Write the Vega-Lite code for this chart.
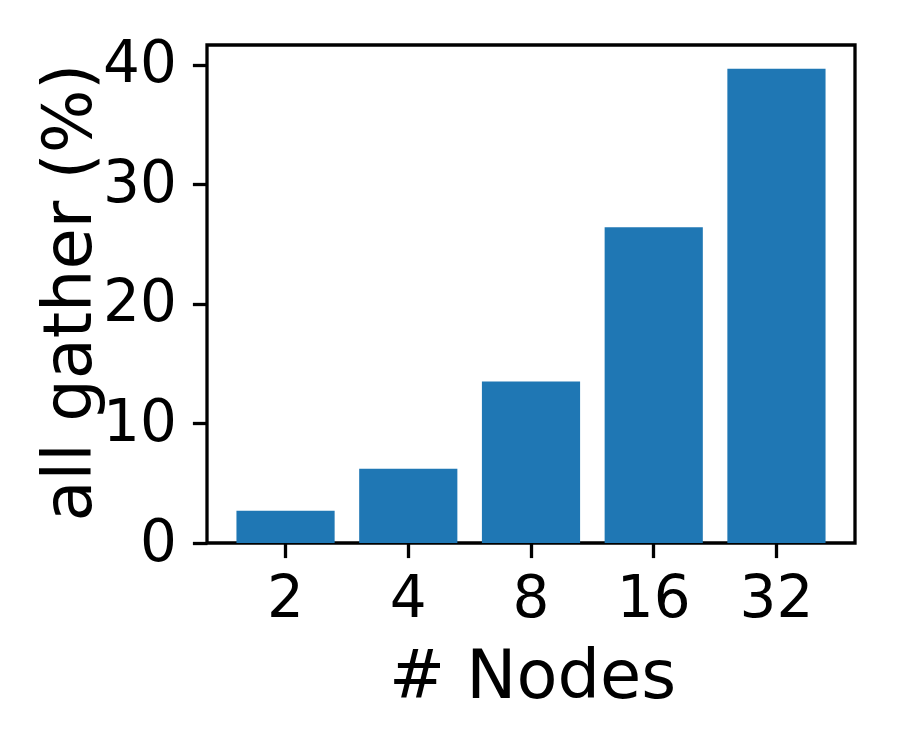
{
  "$schema": "https://vega.github.io/schema/vega-lite/v6.json",
  "width": 648,
  "height": 498,
  "autosize": {"type": "none"},
  "padding": {"left": 207, "top": 45, "right": 45, "bottom": 207},
  "background": "white",
  "data": {
    "values": [
      {"nodes": "2", "value": 2.69},
      {"nodes": "4", "value": 6.2},
      {"nodes": "8", "value": 13.51},
      {"nodes": "16", "value": 26.4},
      {"nodes": "32", "value": 39.66}
    ]
  },
  "mark": {"type": "bar", "color": "#1f77b4"},
  "encoding": {
    "x": {
      "field": "nodes",
      "type": "ordinal",
      "sort": ["2", "4", "8", "16", "32"],
      "scale": {"paddingInner": 0.2, "paddingOuter": 0.24},
      "axis": {
        "title": "# Nodes",
        "labelAngle": 0,
        "labelBaseline": "alphabetic",
        "labelPadding": 59,
        "titleX": 325,
        "titleY": 154,
        "titleBaseline": "alphabetic",
        "titleAlign": "center"
      }
    },
    "y": {
      "field": "value",
      "type": "quantitative",
      "scale": {"domain": [0, 41.64], "nice": false, "zero": true},
      "axis": {
        "title": "all gather (%)",
        "values": [0, 10, 20, 30, 40],
        "labelPadding": 16,
        "labelBaseline": "middle",
        "titleX": -117,
        "titleY": 247,
        "titleAngle": -90,
        "titleBaseline": "alphabetic",
        "titleAlign": "center"
      }
    }
  },
  "config": {
    "font": "DejaVu Sans",
    "view": {"stroke": "black", "strokeWidth": 3.3},
    "axis": {
      "domain": false,
      "grid": false,
      "ticks": true,
      "tickColor": "black",
      "tickWidth": 3.3,
      "tickSize": 14.6,
      "labelColor": "black",
      "labelFont": "DejaVu Sans",
      "labelFontSize": 58,
      "titleColor": "black",
      "titleFont": "DejaVu Sans",
      "titleFontSize": 67,
      "titleFontWeight": "normal"
    }
  }
}
